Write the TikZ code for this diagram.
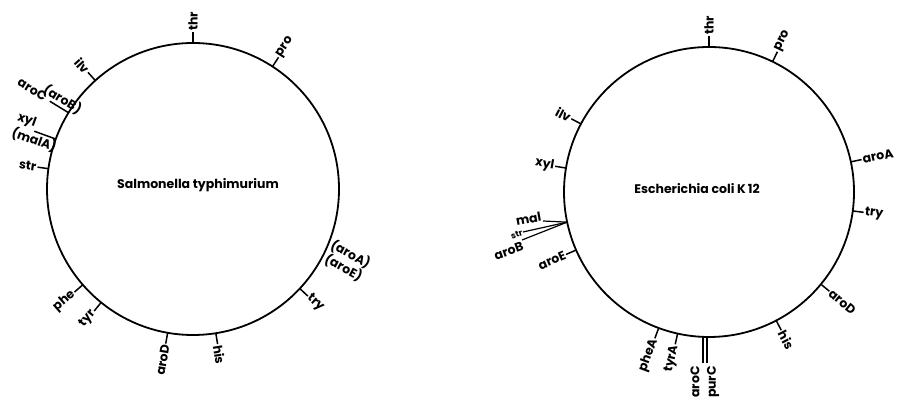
\documentclass[tikz,border=0pt]{standalone}
\usepackage{fontspec}
\setmainfont{Poppins}
\usetikzlibrary{calc}
\tikzset{
  ring/.style={line width=1.8pt},
  tk/.style={line width=1.5pt},
  lbl/.style={font=\fontsize{12.5}{12.5}\selectfont\bfseries, inner sep=1pt},
  smalllbl/.style={font=\fontsize{8.5}{9}\selectfont\bfseries, inner sep=0.5pt},
  title/.style={font=\fontsize{12.5}{14}\selectfont\bfseries, inner sep=0pt},
}
\newcommand\gene[7]{%
  \coordinate (#4a) at ($(#1)+({#3}:{#2})$);
  \coordinate (#4b) at ($(#1)+({#3}:{#2+11})$);
  \draw[tk] (#4a) -- (#4b);
  \node[lbl, rotate=#6, anchor=#7] (#4) at (#4b) {#5};
}
\begin{document}
\begin{tikzpicture}[x=1pt,y=1pt]
\useasboundingbox (0,0) rectangle (899,401);
\coordinate (L) at (193,212);
\coordinate (R) at (709,209);
\draw[ring] (L) circle[radius=146];
\draw[ring] (R) circle[radius=145];
\node[title] (Ltitle) at (198,216) {Salmonella typhimurium};
\node[title] (Rtitle) at (697,212) {Escherichia coli K\,12};

% left circle
\gene{L}{146}{90}{Lthr}{thr}{90}{west}
\gene{L}{146}{57}{Lpro}{pro}{57}{west}
\gene{L}{146}{132}{Lilv}{ilv}{-48}{east}
\gene{L}{146}{172}{Lstr}{str}{-8}{east}
\gene{L}{146}{221}{Lphe}{phe}{41}{east}
\gene{L}{146}{231}{Ltyr}{tyr}{51}{east}
\gene{L}{146}{260}{LaroD}{aroD}{80}{east}
\gene{L}{146}{279}{Lhis}{his}{-81}{west}
\gene{L}{146}{317}{Ltry}{try}{-43}{west}

\coordinate (LaroBa) at ($(L)+(148.5:146)$);
\coordinate (LaroBb) at ($(L)+(148.5:168)$);
\draw[tk] (LaroBa) -- (LaroBb);
\node[lbl, rotate=-31.5, anchor=south] (LaroB) at ($(L)+(148.5:158)$) {(aroB)};
\node[lbl, rotate=-31.5, anchor=east] (LaroC) at ($(LaroBb)+(-3,3)$) {aroC};

\coordinate (Lxyla) at ($(L)+(160:146)$);
\coordinate (Lxylb) at ($(L)+(160:169)$);
\draw[tk] (Lxyla) -- (Lxylb);
\node[lbl, rotate=-20, anchor=south east] (Lxyl) at (Lxylb) {xyl};
\node[lbl, rotate=-20, anchor=north] (LmalA) at ($(L)+(160:166)$) {(malA)};

\node[lbl, rotate=-28, align=center] (LaroAE) at (347,140) {(aroA)\\(aroE)};

% right circle
\gene{R}{145}{90}{Rthr}{thr}{90}{west}
\gene{R}{145}{64}{Rpro}{pro}{64}{west}
\gene{R}{145}{12}{RaroA}{aroA}{12}{west}
\gene{R}{145}{-7.5}{Rtry}{try}{-7.5}{west}
\gene{R}{145}{-39.5}{RaroD}{aroD}{-39.5}{west}
\gene{R}{145}{-62.4}{Rhis}{his}{-62.4}{west}
\gene{R}{145}{257.5}{RtyrA}{tyrA}{77.5}{east}
\gene{R}{145}{249.7}{RpheA}{pheA}{69.7}{east}
\gene{R}{145}{203.6}{RaroE}{aroE}{23.6}{east}
\gene{R}{145}{170.5}{Rxyl}{xyl}{-9.5}{east}
\gene{R}{145}{152}{Rilv}{ilv}{-28}{east}

\coordinate (RaroCa) at ($(R)+(267.6:145)$);
\coordinate (RaroCb) at ($(RaroCa)+(0,-26)$);
\coordinate (RpurCa) at ($(R)+(269.2:145)$);
\coordinate (RpurCb) at ($(RpurCa)+(0,-26)$);
\draw[tk, line width=1.2pt] (RaroCa) -- (RaroCb);
\draw[tk, line width=1.2pt] (RpurCa) -- (RpurCb);
\node[lbl, rotate=90, anchor=east] (RaroC) at (695,36) {aroC};
\node[lbl, rotate=90, anchor=east] (RpurC) at (713,36) {purC};

\coordinate (Rjct) at ($(R)+(192:145)$);
\coordinate (Rmalb) at (543,180);
\coordinate (Rstrb) at (523,169);
\coordinate (RaroBb) at (522,161);
\draw[tk, line width=1.2pt] (Rjct) -- (Rmalb);
\draw[tk, line width=1.2pt] (Rjct) -- (Rstrb);
\draw[tk, line width=1.2pt] (Rjct) -- (RaroBb);
\node[lbl, rotate=10, anchor=base east] (Rmal) at (Rmalb) {mal};
\node[smalllbl, rotate=20, anchor=east] (Rstr) at (Rstrb) {str};
\node[lbl, rotate=20, anchor=north east] (RaroB) at (RaroBb) {aroB};
\end{tikzpicture}
\end{document}
